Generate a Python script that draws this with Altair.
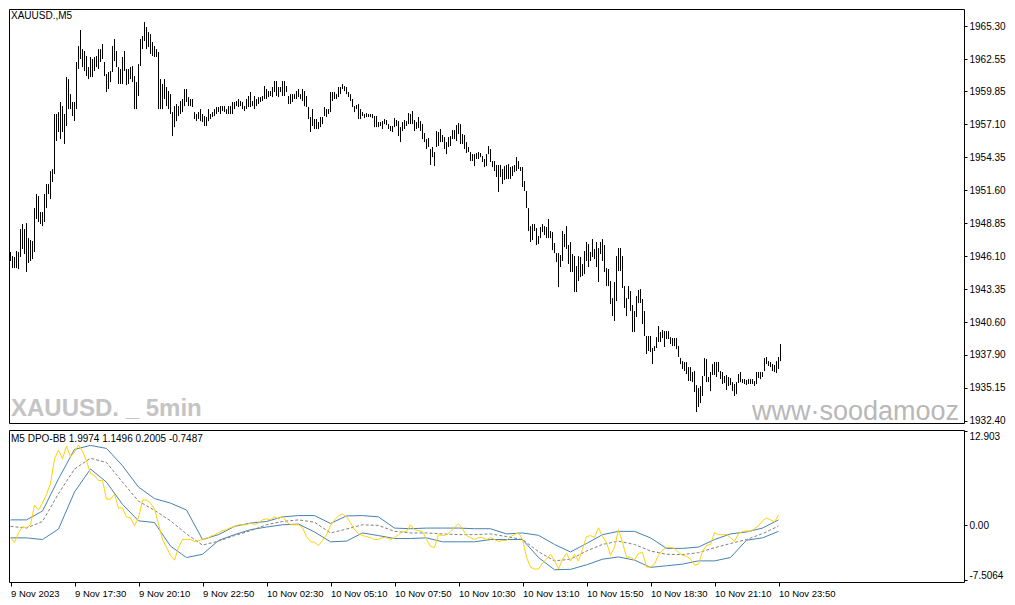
import json
import altair as alt
import pandas as pd

# ---------------- data ----------------
highs = [
    1946.47, 1946.13, 1946.05, 1946.55, 1946.47, 1948.38, 1948.80, 1948.38, 1948.88, 1947.63,
    1947.47, 1947.38, 1950.13, 1951.30, 1951.13, 1949.80, 1949.80, 1951.30, 1952.13, 1952.13,
    1953.22, 1953.38, 1957.97, 1957.97, 1958.13, 1958.97, 1958.63, 1957.97, 1961.05, 1960.88,
    1959.63, 1958.97, 1958.97, 1962.30, 1963.63, 1964.97, 1963.38, 1963.22, 1962.80, 1961.88,
    1962.72, 1962.55, 1962.72, 1962.80, 1963.38, 1963.38, 1963.80, 1962.30, 1961.30, 1961.47,
    1961.55, 1963.63, 1964.22, 1963.22, 1961.88, 1961.72, 1962.72, 1963.22, 1961.72, 1961.72,
    1961.88, 1961.97, 1961.13, 1960.63, 1962.13, 1964.22, 1964.47, 1965.63, 1965.22, 1964.80,
    1964.63, 1963.97, 1963.63, 1963.38, 1963.13, 1960.88, 1960.47, 1960.88, 1960.22, 1959.88,
    1959.63, 1958.13, 1958.63, 1958.80, 1958.63, 1959.05, 1959.22, 1960.05, 1960.05, 1959.38,
    1959.22, 1959.22, 1958.13, 1957.97, 1958.13, 1958.38, 1957.97, 1957.80, 1957.72, 1958.38,
    1957.97, 1958.13, 1958.38, 1958.55, 1958.55, 1958.63, 1958.63, 1958.63, 1958.38, 1958.63,
    1958.63, 1958.97, 1958.97, 1959.05, 1959.22, 1959.05, 1958.97, 1958.63, 1959.22, 1959.47,
    1959.80, 1959.05, 1959.47, 1959.22, 1959.38, 1959.38, 1959.47, 1960.30, 1960.05, 1959.88,
    1959.88, 1960.22, 1960.72, 1960.72, 1960.22, 1960.22, 1960.72, 1960.72, 1960.30, 1959.47,
    1959.63, 1959.63, 1959.63, 1959.88, 1960.05, 1959.63, 1960.05, 1959.88, 1959.47, 1958.55,
    1957.72, 1958.38, 1957.55, 1957.55, 1957.30, 1957.72, 1957.72, 1958.55, 1958.38, 1958.38,
    1959.80, 1959.80, 1959.80, 1959.63, 1960.22, 1960.22, 1960.47, 1960.30, 1960.22, 1959.80,
    1959.63, 1959.22, 1958.63, 1958.72, 1958.80, 1958.38, 1958.13, 1957.97, 1958.05, 1957.97,
    1957.97, 1957.97, 1957.80, 1957.80, 1957.30, 1957.30, 1957.38, 1957.55, 1957.47, 1957.13,
    1956.97, 1956.97, 1957.63, 1957.47, 1957.38, 1956.88, 1957.30, 1957.47, 1957.38, 1958.05,
    1957.97, 1958.22, 1957.47, 1957.30, 1957.72, 1957.38, 1957.13, 1956.38, 1955.88, 1955.97,
    1955.05, 1955.22, 1954.80, 1956.55, 1956.47, 1956.72, 1956.22, 1956.05, 1955.63, 1956.05,
    1956.13, 1956.63, 1956.63, 1957.05, 1957.22, 1957.13, 1956.30, 1956.22, 1955.63, 1955.22,
    1954.80, 1954.63, 1954.63, 1954.72, 1954.80, 1954.72, 1954.47, 1954.22, 1954.63, 1955.30,
    1955.05, 1954.05, 1954.05, 1953.72, 1953.72, 1953.72, 1953.38, 1953.63, 1953.72, 1953.80,
    1953.55, 1953.63, 1953.72, 1954.38, 1954.05, 1953.55, 1953.55, 1952.38, 1951.55, 1950.13,
    1948.63, 1948.80, 1948.80, 1948.47, 1947.80, 1948.55, 1948.80, 1948.63, 1948.55, 1949.22,
    1948.22, 1948.13, 1947.22, 1946.38, 1946.38, 1946.22, 1948.22, 1947.97, 1948.63, 1947.05,
    1947.30, 1946.30, 1946.13, 1945.30, 1946.13, 1946.05, 1945.47, 1946.55, 1947.30, 1947.13,
    1946.47, 1947.55, 1946.72, 1947.30, 1946.80, 1947.30, 1947.55, 1947.05, 1945.13, 1945.05,
    1944.05, 1942.63, 1943.97, 1946.13, 1946.80, 1946.80, 1946.13, 1943.63, 1942.63, 1943.63,
    1943.22, 1942.05, 1941.55, 1942.80, 1943.30, 1943.38, 1942.55, 1941.55, 1939.47, 1939.47,
    1939.47, 1938.47, 1938.63, 1939.38, 1940.30, 1939.80, 1939.97, 1939.88, 1939.88, 1939.88,
    1939.38, 1939.30, 1939.30, 1939.30, 1938.63, 1937.63, 1937.38, 1937.30, 1937.30, 1936.88,
    1936.88, 1936.47, 1936.55, 1935.38, 1935.13, 1935.30, 1936.13, 1937.63, 1937.55, 1936.05,
    1936.47, 1937.13, 1937.30, 1937.30, 1937.30, 1936.55, 1936.47, 1936.13, 1936.22, 1936.05,
    1935.97, 1935.63, 1935.47, 1935.63, 1936.30, 1936.47, 1935.88, 1935.88, 1935.80, 1935.88,
    1935.88, 1935.88, 1935.72, 1936.47, 1936.47, 1936.47, 1936.47, 1937.63, 1937.72, 1937.38,
    1937.30, 1937.13, 1937.05, 1937.38, 1937.72, 1938.80,
]

lows = [
    1945.72, 1945.13, 1945.13, 1945.13, 1945.05, 1946.05, 1946.72, 1946.30, 1944.80, 1945.55,
    1945.72, 1945.88, 1946.47, 1949.22, 1948.97, 1948.80, 1948.63, 1948.97, 1950.13, 1951.30,
    1950.88, 1952.30, 1952.97, 1955.72, 1956.47, 1955.88, 1956.47, 1955.47, 1956.97, 1958.38,
    1958.38, 1957.80, 1957.38, 1958.38, 1961.72, 1962.55, 1961.88, 1961.55, 1961.13, 1960.88,
    1961.05, 1961.05, 1961.55, 1961.88, 1961.72, 1962.30, 1962.55, 1961.13, 1959.80, 1960.05,
    1960.63, 1961.47, 1962.38, 1961.88, 1960.47, 1960.47, 1960.47, 1961.55, 1960.38, 1960.47,
    1960.88, 1960.63, 1958.38, 1958.38, 1959.47, 1961.97, 1963.38, 1964.05, 1963.38, 1963.55,
    1962.97, 1962.80, 1962.72, 1962.72, 1958.38, 1958.38, 1958.38, 1959.22, 1958.63, 1958.38,
    1957.97, 1956.13, 1956.88, 1957.38, 1957.80, 1957.97, 1958.13, 1958.63, 1958.97, 1958.63,
    1958.63, 1958.55, 1957.55, 1957.38, 1957.55, 1957.38, 1957.30, 1956.97, 1956.97, 1957.38,
    1957.55, 1957.72, 1957.80, 1957.97, 1958.13, 1957.97, 1958.22, 1958.13, 1957.97, 1957.97,
    1957.97, 1957.97, 1958.38, 1958.63, 1958.55, 1958.63, 1958.38, 1958.22, 1958.38, 1958.55,
    1958.55, 1958.63, 1958.38, 1958.63, 1958.80, 1958.97, 1959.05, 1959.22, 1959.22, 1959.38,
    1959.47, 1959.38, 1959.80, 1959.47, 1959.38, 1959.80, 1959.47, 1959.47, 1959.80, 1958.80,
    1958.80, 1958.97, 1959.22, 1959.22, 1959.38, 1959.22, 1959.05, 1958.63, 1958.55, 1957.55,
    1956.47, 1956.97, 1956.72, 1956.72, 1956.72, 1956.88, 1957.13, 1957.80, 1957.72, 1957.97,
    1958.13, 1959.05, 1959.22, 1959.22, 1959.38, 1959.63, 1960.05, 1959.88, 1959.63, 1959.38,
    1959.05, 1958.55, 1958.13, 1958.38, 1957.55, 1957.55, 1957.80, 1957.63, 1957.72, 1957.72,
    1957.72, 1957.63, 1956.88, 1956.88, 1956.88, 1956.97, 1956.72, 1957.13, 1957.05, 1956.72,
    1956.55, 1956.47, 1956.88, 1956.97, 1956.13, 1955.63, 1956.55, 1956.72, 1956.97, 1957.13,
    1957.13, 1957.13, 1956.55, 1956.72, 1956.80, 1956.55, 1955.88, 1955.63, 1955.05, 1955.22,
    1953.72, 1954.38, 1953.63, 1955.22, 1955.30, 1955.63, 1955.63, 1955.05, 1954.63, 1955.22,
    1955.30, 1955.88, 1955.88, 1955.72, 1956.30, 1955.47, 1955.47, 1955.05, 1954.72, 1954.80,
    1954.05, 1954.05, 1953.63, 1954.22, 1954.22, 1954.38, 1953.97, 1953.55, 1953.63, 1954.63,
    1953.97, 1953.55, 1953.22, 1952.72, 1951.47, 1952.72, 1952.13, 1952.47, 1952.55, 1952.55,
    1952.55, 1952.80, 1953.13, 1953.22, 1953.38, 1953.22, 1951.88, 1951.55, 1950.13, 1948.22,
    1947.30, 1947.47, 1948.22, 1947.05, 1947.13, 1947.63, 1948.13, 1947.88, 1947.63, 1947.63,
    1947.63, 1946.63, 1946.38, 1945.63, 1943.55, 1945.22, 1945.72, 1946.88, 1946.72, 1945.47,
    1944.80, 1944.80, 1943.13, 1943.13, 1944.05, 1944.38, 1944.47, 1944.63, 1945.72, 1945.22,
    1945.72, 1946.05, 1945.88, 1945.22, 1943.97, 1946.30, 1945.72, 1944.80, 1943.63, 1943.63,
    1942.13, 1941.13, 1940.72, 1942.38, 1944.88, 1944.88, 1943.47, 1941.80, 1941.13, 1942.55,
    1941.55, 1939.80, 1939.80, 1941.05, 1942.22, 1942.22, 1940.47, 1939.47, 1937.97, 1938.22,
    1938.13, 1937.13, 1938.22, 1938.47, 1938.97, 1938.97, 1939.30, 1938.55, 1939.22, 1939.22,
    1938.80, 1938.63, 1938.63, 1938.38, 1937.72, 1937.13, 1936.72, 1936.55, 1936.30, 1935.72,
    1935.72, 1935.63, 1934.80, 1933.13, 1933.55, 1933.88, 1934.47, 1936.13, 1935.63, 1935.63,
    1934.88, 1936.22, 1936.22, 1936.05, 1936.47, 1935.88, 1935.47, 1935.55, 1934.97, 1935.30,
    1935.38, 1934.88, 1934.47, 1934.63, 1935.55, 1935.63, 1935.55, 1935.47, 1935.38, 1935.47,
    1935.47, 1935.47, 1935.30, 1935.47, 1935.97, 1935.88, 1936.05, 1936.55, 1937.13, 1936.97,
    1936.88, 1936.55, 1936.47, 1936.38, 1936.72, 1937.38,
]

# DPO values, one every 2 bars
dpo_step = 2
dpo = [
    -1.67, -2.34, -1.00, -0.19, -0.32, 0.08, 2.77, 2.10, 3.04, 4.25,
    5.73, 9.10, 10.31, 9.10, 10.85, 9.37, 10.04, 10.98, 10.17, 8.83,
    7.08, 6.81, 6.14, 6.14, 3.58, 3.58, 4.25, 2.37, 2.37, 1.16,
    1.02, -0.05, 1.02, 3.45, 3.45, 3.04, 2.23, 0.22, -1.94, -3.01,
    -4.09, -4.76, -3.01, -1.94, -1.94, -1.94, -2.21, -2.07, -1.94, -1.80,
    -1.53, -1.27, -1.00, -0.73, -0.59, -0.32, -0.19, 0.08, 0.08, 0.08,
    0.35, 0.08, 0.35, 0.75, 0.89, 0.75, 1.16, 0.89, 1.29, 0.48,
    0.08, 0.08, 0.08, -0.32, -1.53, -2.21, -2.34, -2.75, -2.07, -1.27,
    -0.05, 0.75, 1.29, 1.56, 1.16, 0.35, -0.59, -1.13, -1.40, -1.53,
    -1.67, -1.94, -1.94, -1.67, -1.67, -1.94, -1.67, -1.27, -0.86, -0.86,
    0.08, -0.59, -0.73, -0.86, -1.94, -2.88, -3.01, -1.27, -1.40, -1.27,
    -0.86, -0.32, 0.22, -0.46, -1.40, -1.67, -1.94, -1.67, -1.67, -1.94,
    -1.67, -1.94, -2.21, -2.07, -2.07, -1.53, -1.27, -1.00, -1.94, -4.36,
    -5.71, -5.98, -5.98, -5.17, -4.63, -3.96, -4.76, -5.98, -4.63, -3.82,
    -4.90, -3.96, -4.90, -3.28, -1.53, -1.40, -1.67, -0.32, -1.53, -2.34,
    -4.09, -3.01, -0.59, -2.34, -4.36, -4.36, -4.76, -3.82, -3.69, -5.71,
    -5.71, -5.30, -4.09, -3.42, -3.01, -3.01, -3.15, -3.69, -4.09, -4.23,
    -4.63, -5.44, -5.30, -3.55, -2.75, -2.61, -1.00, -1.27, -1.27, -1.27,
    -1.67, -2.21, -1.13, -0.86, -0.73, -0.86, -0.46, -0.05, 0.62, 1.02,
    0.75, 0.48, 1.43,
]

# Bollinger bands on the DPO, one value every 8 bars
bb_step = 8
bb_upper = [
    0.75, 0.75, 1.96, 6.37, 10.40, 10.94, 10.53, 8.16, 5.24, 3.67,
    3.04, 2.10, -1.94, -1.27, -0.14, 0.31, 0.53, 1.16, 1.34, 1.34,
    0.26, 1.29, 1.34, 1.16, -0.37, -0.46, -0.37, -0.37, -0.37, -0.46,
    -0.46, -1.17, -1.04, -1.36, -2.61, -3.64, -2.48, -1.27, -0.82, -0.82,
    -1.71, -3.15, -3.15, -2.97, -1.94, -1.17, -0.90, -0.37, 0.75,
]
bb_middle = [
    -0.14, -0.37, 0.53, 4.34, 7.71, 9.19, 8.60, 5.91, 3.31, 2.06,
    0.62, -1.17, -2.70, -2.16, -1.40, -0.73, 0.08, 0.53, 0.75, 0.44,
    -1.04, -0.50, 0.08, -0.01, -0.82, -1.04, -1.04, -1.17, -1.27, -1.27,
    -1.17, -1.53, -1.94, -3.60, -4.86, -4.63, -3.51, -2.61, -2.16, -2.61,
    -3.51, -3.96, -4.00, -3.73, -3.06, -2.48, -1.94, -1.13, -0.10,
]
bb_lower = [
    -1.71, -1.71, -1.94, -0.50, 4.56, 7.71, 5.91, 2.87, 0.62, 0.39,
    -2.84, -4.40, -3.96, -2.07, -1.27, -0.59, -0.23, 0.08, 0.17, -0.90,
    -2.25, -2.16, -1.04, -1.40, -1.80, -1.80, -1.71, -2.25, -2.25, -2.25,
    -1.94, -1.94, -1.94, -4.40, -6.07, -6.02, -5.40, -4.63, -4.32, -4.76,
    -5.75, -5.53, -5.30, -4.86, -4.86, -4.40, -2.03, -1.71, -0.82,
]

price_ticks = [1965.30, 1962.55, 1959.85, 1957.10, 1954.35, 1951.60, 1948.85,
               1946.10, 1943.35, 1940.60, 1937.90, 1935.15, 1932.40]
dpo_ticks = [12.903, 0.0, -7.5064]
dpo_tick_labels = ["12.903", "0.00", "-7.5064"]
time_step = 32
time_labels = ["9 Nov 2023", "9 Nov 17:30", "9 Nov 20:10", "9 Nov 22:50",
               "10 Nov 02:30", "10 Nov 05:10", "10 Nov 07:50", "10 Nov 10:30",
               "10 Nov 13:10", "10 Nov 15:50", "10 Nov 18:30", "10 Nov 21:10",
               "10 Nov 23:50"]

symbol_label = "XAUUSD.,M5"
indicator_label = "M5 DPO-BB 1.9974 1.1496 0.2005 -0.7487"
watermark_left = "XAUUSD. _ 5min"
watermark_right = "www\u00b7soodamooz"

assert len(highs) == len(lows) == 386
assert len(bb_upper) == len(bb_middle) == len(bb_lower)

# ---------------- tables ----------------
bars = pd.DataFrame({"i": list(range(len(highs))), "high": highs, "low": lows})
dpo_df = pd.DataFrame({"i": [dpo_step * k for k in range(len(dpo))], "v": dpo})
bb_df = pd.DataFrame({
    "i": [bb_step * k for k in range(len(bb_upper))],
    "upper": bb_upper, "middle": bb_middle, "lower": bb_lower,
})

FONT = "'Liberation Sans', sans-serif"
W = 955
H_MAIN = 414
H_SUB = 152

x_scale = alt.Scale(domain=[-0.75, 476.75], nice=False, zero=False)
y_main = alt.Scale(domain=[1932.22, 1966.72], nice=False, zero=False)
y_sub = alt.Scale(domain=[-7.75, 13.05], nice=False, zero=False)


def text_layer(txt, **kw):
    return alt.Chart(pd.DataFrame({"t": [txt]})).mark_text(**kw)


price_axis = alt.Axis(orient="right", values=price_ticks, format=".2f", title=None,
                      tickSize=3, labelPadding=2)

bar_layer = alt.Chart(bars).mark_rule(color="#000000", strokeWidth=1, opacity=1).encode(
    x=alt.X("i:Q", scale=x_scale, axis=None),
    y=alt.Y("low:Q", scale=y_main, axis=price_axis),
    y2="high:Q",
)

wm_left = text_layer(watermark_left, align="left", baseline="alphabetic", font=FONT,
                     fontSize=24, fontWeight="bold", color="#C4C4C4").encode(
    text="t:N", x=alt.value(2), y=alt.value(407))
wm_right = text_layer(watermark_right, align="left", baseline="alphabetic",
                      font=FONT, fontSize=27, color="#B8B8B8").encode(
    text="t:N", x=alt.value(743), y=alt.value(411))
sym = text_layer(symbol_label, align="left", baseline="top", font=FONT, fontSize=10,
                 color="#000000").encode(text="t:N", x=alt.value(2), y=alt.value(2))

main = alt.layer(wm_left, wm_right, bar_layer, sym).properties(width=W, height=H_MAIN)

time_axis = alt.Axis(
    values=[time_step * j for j in range(len(time_labels))],
    labelExpr=f"{json.dumps(time_labels)}[round(datum.value / {time_step})]",
    labelAlign="left", labelFlush=False, labelOverlap=False, labelPadding=2,
    labelFontSize=9.5, tickSize=4, title=None,
)
dpo_axis = alt.Axis(
    orient="right", values=dpo_ticks, title=None, tickSize=3, labelPadding=2,
    labelExpr=f"{json.dumps(dpo_tick_labels)}[indexof({json.dumps(dpo_ticks)}, datum.value)]",
    labelBaseline={"expr": "datum.value > 10 ? 'top' : (datum.value < -5 ? 'bottom' : 'middle')"},
)

band_base = alt.Chart(bb_df).encode(x=alt.X("i:Q", scale=x_scale, axis=time_axis))
upper_line = band_base.mark_line(color="#4682B4", strokeWidth=1).encode(
    y=alt.Y("upper:Q", scale=y_sub, axis=dpo_axis))
lower_line = band_base.mark_line(color="#4682B4", strokeWidth=1).encode(
    y=alt.Y("lower:Q", scale=y_sub))
mid_line = band_base.mark_line(color="#808080", strokeWidth=1, strokeDash=[3, 2]).encode(
    y=alt.Y("middle:Q", scale=y_sub))
dpo_line = alt.Chart(dpo_df).mark_line(color="#FFD200", strokeWidth=1).encode(
    x=alt.X("i:Q", scale=x_scale),
    y=alt.Y("v:Q", scale=y_sub),
)
ind = text_layer(indicator_label, align="left", baseline="top", font=FONT, fontSize=10,
                 color="#000000").encode(text="t:N", x=alt.value(2), y=alt.value(4))

sub = alt.layer(ind, upper_line, lower_line, mid_line, dpo_line).properties(
    width=W, height=H_SUB)

chart = (
    alt.vconcat(main, sub, spacing=2)
    .resolve_scale(x="independent", y="independent")
    .properties(padding=0, background="#FFFFFF")
    .configure_axis(labelFont=FONT, labelFontSize=10, labelColor="#000000",
                    tickColor="#000000", grid=False, domain=False)
    .configure_view(stroke="#000000", strokeWidth=1)
)

chart.save("out.html", embed_options={"renderer": "svg", "actions": False})
